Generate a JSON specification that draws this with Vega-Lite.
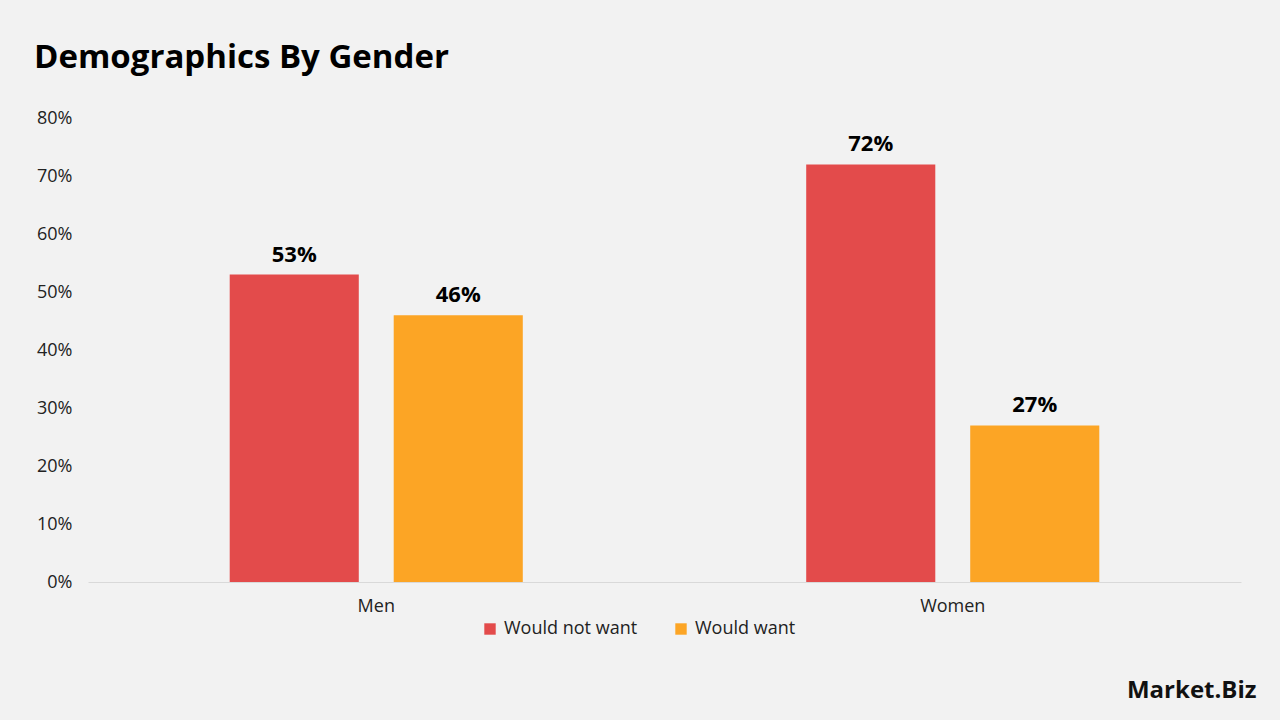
{
  "$schema": "https://vega.github.io/schema/vega-lite/v6.json",
  "width": 1153,
  "height": 464,
  "autosize": {"type": "none"},
  "padding": {"left": 88, "top": 118, "right": 39, "bottom": 138},
  "background": "#F2F2F2",
  "config": {"view": {"stroke": null}},
  "title": {
    "text": "Demographics By Gender",
    "anchor": "start",
    "frame": "group",
    "dx": -54,
    "offset": 34,
    "fontSize": 33,
    "fontWeight": "bold",
    "font": "Open Sans",
    "color": "#000000"
  },
  "data": {
    "values": [
      {"gender": "Men", "response": "Would not want", "value": 0.53},
      {"gender": "Men", "response": "Would want", "value": 0.46},
      {"gender": "Women", "response": "Would not want", "value": 0.72},
      {"gender": "Women", "response": "Would want", "value": 0.27}
    ]
  },
  "encoding": {
    "x": {
      "field": "gender",
      "type": "nominal",
      "scale": {"paddingInner": 0, "paddingOuter": 0},
      "axis": {
        "title": "Market.Biz",
        "titleAnchor": "end",
        "titleAlign": "right",
        "titleBaseline": "middle",
        "titleX": 1168,
        "titleY": 108,
        "titleFontSize": 24,
        "titleFontWeight": "bold",
        "titleFont": "Open Sans",
        "titleColor": "#111111",
        "labelAngle": 0,
        "labelFontSize": 18,
        "labelFont": "Open Sans",
        "labelColor": "#222222",
        "labelPadding": 15,
        "ticks": false,
        "domainColor": "#D9D9D9",
        "domainWidth": 1.2
      }
    },
    "xOffset": {
      "field": "response",
      "type": "nominal",
      "scale": {"paddingInner": 0.213, "paddingOuter": 0.864}
    },
    "y": {
      "field": "value",
      "type": "quantitative",
      "scale": {"domain": [0, 0.8]},
      "axis": {
        "title": null,
        "format": ".0%",
        "values": [0, 0.1, 0.2, 0.3, 0.4, 0.5, 0.6, 0.7, 0.8],
        "labelOverlap": false,
        "grid": false,
        "domain": false,
        "ticks": false,
        "labelPadding": 16,
        "labelFontSize": 18,
        "labelFont": "Open Sans",
        "labelColor": "#222222"
      }
    }
  },
  "layer": [
    {
      "mark": {"type": "bar"},
      "encoding": {
        "color": {
          "field": "response",
          "type": "nominal",
          "scale": {"domain": ["Would not want", "Would want"], "range": ["#E34B4B", "#FCA525"]},
          "legend": {
            "title": null,
            "orient": "none",
            "direction": "horizontal",
            "legendX": 393,
            "legendY": 502,
            "symbolType": "square",
            "symbolSize": 130,
            "symbolStrokeWidth": 0,
            "labelFontSize": 18,
            "labelFont": "Open Sans",
            "labelColor": "#222222",
            "columnPadding": 34,
            "labelOffset": 5
          }
        }
      }
    },
    {
      "mark": {"type": "text", "baseline": "bottom", "dy": -8, "fontSize": 22, "fontWeight": "bold", "font": "Open Sans", "color": "#000000"},
      "encoding": {
        "text": {"field": "value", "type": "quantitative", "format": ".0%"}
      }
    }
  ]
}
